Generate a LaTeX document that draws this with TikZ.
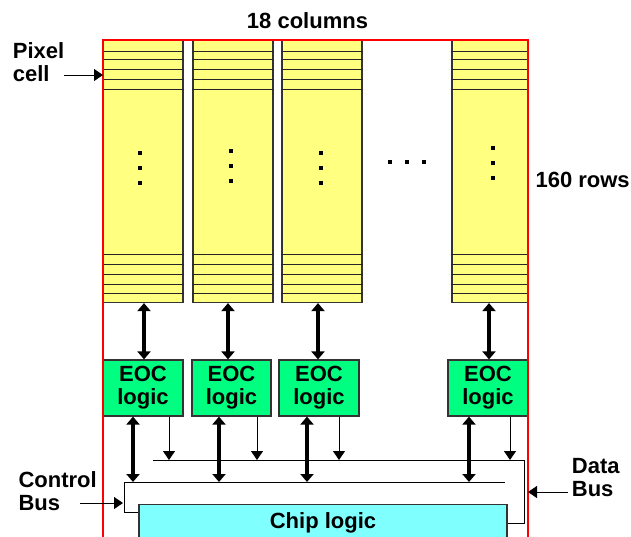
\documentclass[tikz,border=0pt]{standalone}
\usepackage{fontspec}
\setsansfont{Liberation Sans}
\usepackage{xcolor}
\usetikzlibrary{arrows.meta}

\definecolor{cellyellow}{HTML}{FFFF80}
\definecolor{eocgreen}{HTML}{00FF80}
\definecolor{chipcyan}{HTML}{80FFFF}

\begin{document}
\begin{tikzpicture}[
  x=1pt, y=-1pt,
  every node/.style={font=\sffamily\bfseries\fontsize{22}{23}\selectfont},
  pixcol/.style={draw=black!80, line width=1.2pt, fill=cellyellow, minimum height=262pt, inner sep=0pt},
  rowline/.style={draw=black!85, line width=1pt},
  eoc/.style={draw=black!80, line width=1.2pt, fill=eocgreen, align=center, inner sep=0pt, minimum height=56pt},
  chipbox/.style={draw=black!80, line width=1.2pt, fill=chipcyan, anchor=north, minimum width=368pt,
                  inner ysep=8pt, text height=15.5pt, text depth=40pt},
  note/.style={align=left, inner sep=0pt, anchor=north west},
  dbl/.style={{Triangle[width=13pt,length=8pt]}-{Triangle[width=13pt,length=8pt]}, line width=3.8pt},
  ptr/.style={-{Triangle[width=12pt,length=9pt]}, line width=1pt},
  bus/.style={draw=black, line width=1pt},
  chipedge/.style={draw=red, line width=1.2pt},
]

\useasboundingbox (0,0) rectangle (631,536);

\node[anchor=base] (ncols) at (307.5,28) {18 columns};
\node[anchor=base west] (nrows) at (532,187) {160 rows};

\node[pixcol, minimum width=80pt] (c1) at (143,171.5) {};
\node[pixcol, minimum width=80pt] (c2) at (233,171.5) {};
\node[pixcol, minimum width=80pt] (c3) at (322,171.5) {};
\node[pixcol, minimum width=76pt] (c4) at (490,171.5) {};

\foreach \c in {c1,c2,c3,c4}
  \foreach \r in {51,59,69,79,89,254,264,274,284,293}
    \draw[rowline] (\c.west |- 0,\r) -- (\c.east |- 0,\r);

\foreach \x/\y in {140/153, 231/151, 321/153, 493/148}
  \foreach \k in {0,1,2}
    \fill (\x-2,\y+15*\k-2) rectangle ++(4,4);
\foreach \x in {390,407,424}
  \fill (\x-2,160) rectangle ++(4,4);

\node[eoc, minimum width=80pt] (e1) at (143,388) {EOC\\logic};
\node[eoc, minimum width=79pt] (e2) at (231.5,388) {EOC\\logic};
\node[eoc, minimum width=80pt] (e3) at (319,388) {EOC\\logic};
\node[eoc, minimum width=80pt] (e4) at (488,388) {EOC\\logic};

\foreach \i/\s in {1/1, 2/-5, 3/-4, 4/-1}
  \draw[dbl] ([xshift=\s pt]c\i.south) -- ([xshift=\s pt]c\i.south |- e\i.north);

\node[chipbox] (chip) at (323,504) {Chip logic};

\coordinate (dbus) at (153,460);
\coordinate (dbend) at (524,460);
\coordinate (cbus) at (124,482);
\coordinate (cbend) at (505,482);

\draw[bus] (dbus) -- (dbend) |- ([yshift=-19pt]chip.north east);
\draw[bus] (cbend) -- (cbus) |- ([yshift=-8pt]chip.north west);

\foreach \i/\a/\b in {1/-10/26, 2/-12.5/25.5, 3/-12/20, 4/-19/22} {
  \draw[dbl] ([xshift=\a pt]e\i.south) -- ([xshift=\a pt]e\i.south |- cbus);
  \draw[ptr] ([xshift=\b pt]e\i.south) -- ([xshift=\b pt]e\i.south |- dbus);
}

\draw[chipedge] (103,540) |- (528,40) -- (528,540);

\node[note] (pixlbl) at (12.7,42.7) {Pixel\\cell};
\node[note] (cblbl) at (18.3,471.4) {Control\\Bus};
\node[note] (dblbl) at (571.7,458.3) {Data\\Bus};

\coordinate (pixtip) at (103,75);
\coordinate (cbtip) at (123,503);
\coordinate (dbtip) at (528,492);
\draw[ptr] (pixlbl.east |- pixtip) -- (pixtip);
\draw[ptr] ([xshift=-43pt]cbtip) -- (cbtip);
\draw[ptr] ([xshift=-4pt]dblbl.west |- dbtip) -- (dbtip);

\end{tikzpicture}
\end{document}
